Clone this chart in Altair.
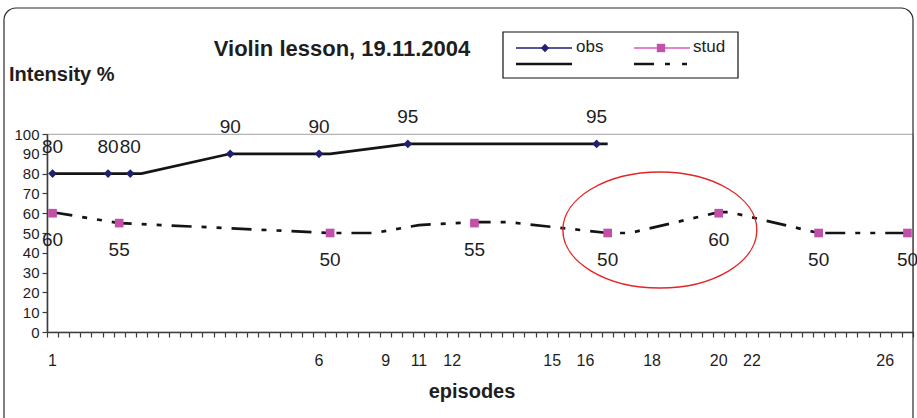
import altair as alt
import pandas as pd

# Time axis: 78 equal slots; the episode numbers sit under the slot where each episode starts
slot_count = 78
episode_slots = [1, 25, 31, 34, 37, 46, 49, 55, 61, 64, 76]
episode_labels = ["1", "6", "9", "11", "12", "15", "16", "18", "20", "22", "26"]

# Observer ratings (diamonds) and student ratings (squares)
obs_slots = [1, 6, 8, 17, 25, 33, 50]
obs_values = [80, 80, 80, 90, 90, 95, 95]
stud_slots = [1, 7, 26, 39, 51, 61, 70, 78]
stud_values = [60, 55, 50, 55, 50, 60, 50, 50]

# Intensity profiles drawn as black lines
obs_line_slots = [1, 9, 17, 26, 33, 51]
obs_line_values = [80, 80, 90, 90, 95, 95]
stud_line_slots = [1, 7, 26, 30, 34, 39, 42, 51, 53, 61, 62, 70, 78]
stud_line_values = [60.5, 55, 50, 50, 54, 55.5, 55.5, 50, 50, 60.5, 60.5, 50, 50]

# Highlighted region (slot, intensity) and its half-extents in pixels
focus_center = (55.7, 51.5)
focus_rx, focus_ry = 97, 58

FONT = "Liberation Sans"
INK = "#1e1e1e"
AXIS_INK = "#3c3c3c"
NAVY = "#1f1f73"
MAGENTA = "#c24fa8"
LINE_MAGENTA = "#d65cc4"
DASH = [20, 10, 5, 10, 5, 10]

W, H = 866, 198
LEFT, TOP = 47, 134

obs = pd.DataFrame({"slot": obs_slots, "value": obs_values})
stud = pd.DataFrame({"slot": stud_slots, "value": stud_values})
obs_line = pd.DataFrame({"slot": obs_line_slots, "value": obs_line_values})
stud_line = pd.DataFrame({"slot": stud_line_slots, "value": stud_line_values})
episodes = pd.DataFrame({"slot": episode_slots, "label": episode_labels})
focus = pd.DataFrame({"slot": [focus_center[0]], "value": [focus_center[1]]})
one = pd.DataFrame({"k": [0]})

slot_edges = [k + 0.5 for k in range(slot_count + 1)]
x_enc = alt.X(
    "slot:Q",
    scale=alt.Scale(domain=[0.5, slot_count + 0.5], nice=False, zero=False),
    axis=alt.Axis(values=slot_edges, labels=False, tickSize=5, tickColor=AXIS_INK,
                  tickWidth=1.2, domainColor=AXIS_INK, domainWidth=1.6, grid=False,
                  title=None),
)
y_enc = alt.Y(
    "value:Q",
    scale=alt.Scale(domain=[0, 100], nice=False),
    axis=alt.Axis(values=list(range(0, 101, 10)), tickSize=5, tickColor=AXIS_INK,
                  tickWidth=1.2, domainColor=AXIS_INK, domainWidth=1.6, grid=False,
                  labelFont=FONT, labelFontSize=15, labelColor=INK, labelPadding=3,
                  title=None),
)

obs_profile = alt.Chart(obs_line).mark_line(color="#141414", strokeWidth=2.7).encode(x=x_enc, y=y_enc)
stud_profile = alt.Chart(stud_line).mark_line(
    color="#141414", strokeWidth=2.7, strokeDash=DASH
).encode(x=x_enc, y=y_enc)

obs_pts = alt.Chart(obs).mark_point(shape="diamond", filled=True, color=NAVY, size=75, opacity=1).encode(x=x_enc, y=y_enc)
stud_pts = alt.Chart(stud).mark_square(color=MAGENTA, size=75, opacity=1).encode(x=x_enc, y=y_enc)

obs_lbl = alt.Chart(obs).mark_text(font=FONT, fontSize=19, color=INK, dy=-27).encode(
    x=x_enc, y=y_enc, text=alt.Text("value:Q"))
stud_lbl = alt.Chart(stud).mark_text(font=FONT, fontSize=19, color=INK, dy=27).encode(
    x=x_enc, y=y_enc, text=alt.Text("value:Q"))

ep_lbl = alt.Chart(episodes).mark_text(font=FONT, fontSize=16, color=INK, baseline="middle").encode(
    x=x_enc, y=alt.value(227), text="label:N")

# Ellipse drawn as a custom symbol (four cubic arcs in a unit box)
k = 0.5523
r = focus_ry / focus_rx
ellipse_path = (
    f"M 1 0 C 1 {k*r:.4f} {k} {r:.4f} 0 {r:.4f} "
    f"C {-k} {r:.4f} -1 {k*r:.4f} -1 0 "
    f"C -1 {-k*r:.4f} {-k} {-r:.4f} 0 {-r:.4f} "
    f"C {k} {-r:.4f} 1 {-k*r:.4f} 1 0 Z"
)
focus_mark = alt.Chart(focus).mark_point(
    shape=ellipse_path, filled=False, stroke="#e32626", strokeWidth=1.4,
    size=(2 * focus_rx) ** 2, opacity=1
).encode(x=x_enc, y=y_enc)


def px(x_abs):
    return alt.value(x_abs - LEFT)


def py(y_abs):
    return alt.value(y_abs - TOP)


title = alt.Chart(one).mark_text(
    text="Violin lesson, 19.11.2004", font=FONT, fontSize=22, fontWeight="bold",
    color=INK, align="center", baseline="middle").encode(x=px(342), y=py(49))
y_title = alt.Chart(one).mark_text(
    text="Intensity %", font=FONT, fontSize=20, fontWeight="bold",
    color=INK, align="left", baseline="middle").encode(x=px(9), y=py(75))
x_title = alt.Chart(one).mark_text(
    text="episodes", font=FONT, fontSize=20, fontWeight="bold",
    color=INK, align="center", baseline="middle").encode(x=px(472), y=py(392))

border = alt.Chart(one).mark_rect(
    fill="transparent", stroke="#2a2a2a", strokeWidth=1.2, cornerRadius=12
).encode(x=px(4), x2=px(913), y=py(8), y2=py(460))

# Legend box
leg_box = alt.Chart(one).mark_rect(fill="white", stroke="#111111", strokeWidth=1.2).encode(
    x=px(503), x2=px(738), y=py(32), y2=py(78))
row1, row2 = 48, 64
leg_obs_line = alt.Chart(one).mark_rule(color=NAVY, strokeWidth=1.3).encode(
    x=px(516), x2=px(572), y=py(row1))
leg_obs_pt = alt.Chart(one).mark_point(shape="diamond", filled=True, color=NAVY, size=70, opacity=1).encode(
    x=px(545), y=py(row1))
leg_obs_txt = alt.Chart(one).mark_text(
    text="obs", font=FONT, fontSize=17, color=INK, align="left", baseline="middle").encode(
    x=px(576), y=py(row1 - 1))
leg_stud_line = alt.Chart(one).mark_rule(color=LINE_MAGENTA, strokeWidth=1.3).encode(
    x=px(634), x2=px(690), y=py(row1))
leg_stud_pt = alt.Chart(one).mark_square(color=MAGENTA, size=70, opacity=1).encode(
    x=px(661), y=py(row1))
leg_stud_txt = alt.Chart(one).mark_text(
    text="stud", font=FONT, fontSize=17, color=INK, align="left", baseline="middle").encode(
    x=px(693), y=py(row1 - 1))
leg_obs_prof = alt.Chart(one).mark_rule(color="#141414", strokeWidth=2.7).encode(
    x=px(516), x2=px(572), y=py(row2))
leg_stud_prof = alt.Chart(one).mark_rule(color="#141414", strokeWidth=2.7, strokeDash=[20, 11, 5, 12, 5, 12]).encode(
    x=px(634), x2=px(690), y=py(row2))

chart = alt.layer(
    border, obs_profile, stud_profile, obs_pts, stud_pts, obs_lbl, stud_lbl, ep_lbl,
    focus_mark, title, y_title, x_title, leg_box, leg_obs_line, leg_obs_pt, leg_obs_txt,
    leg_stud_line, leg_stud_pt, leg_stud_txt, leg_obs_prof, leg_stud_prof,
).properties(
    width=W, height=H,
    autosize=alt.AutoSizeParams(type="none"),
    padding={"left": LEFT, "top": TOP, "right": 917 - LEFT - W, "bottom": 418 - TOP - H},
    background="white",
).configure_view(stroke="#b4b4b4", strokeWidth=1.2)

chart.save("out.html", embed_options={"renderer": "svg", "actions": False})
